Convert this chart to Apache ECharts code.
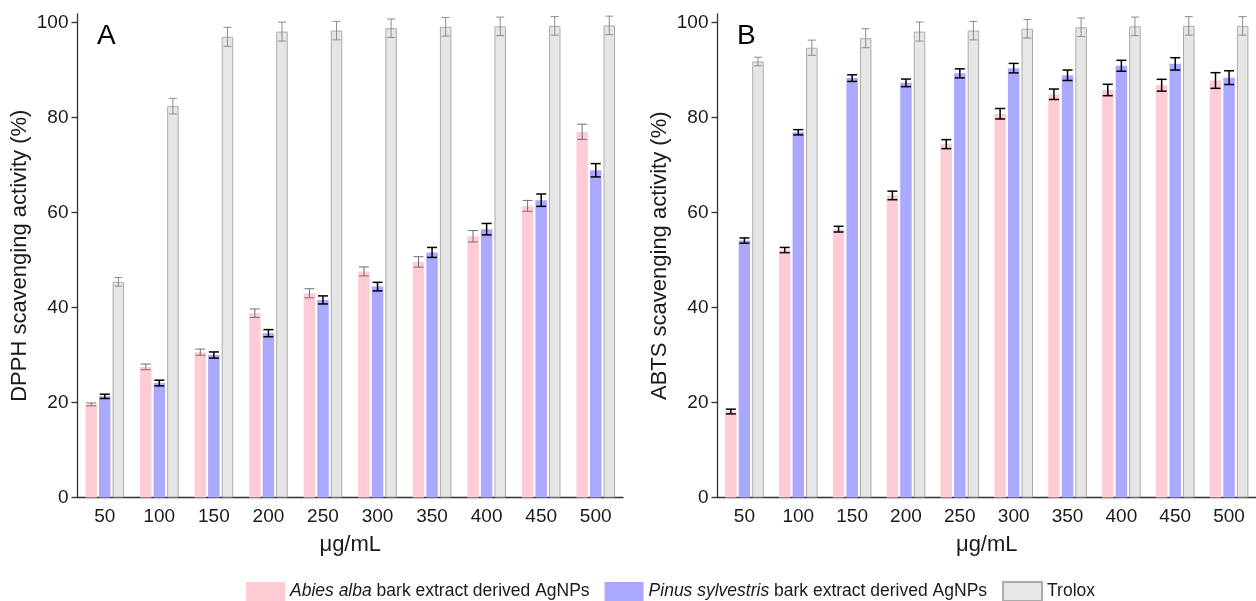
<!DOCTYPE html>
<html>
<head>
<meta charset="utf-8">
<script src="https://cdn.jsdelivr.net/npm/echarts@6/dist/echarts.min.js"></script>
<style>html,body{margin:0;padding:0;background:#fff;}#c{width:1256px;height:601px;}</style>
</head>
<body>
<div id="c"></div>
<script>
var categories = ['50','100','150','200','250','300','350','400','450','500'];
var yTicks = [0, 20, 40, 60, 80, 100];

var dpphAbies     = [19.6, 27.5, 30.6, 38.8, 43.0, 47.6, 49.6, 55.0, 61.4, 77.0];
var dpphAbiesErr  = [0.3, 0.6, 0.65, 0.9, 0.95, 0.95, 1.1, 1.2, 1.15, 1.6];
var dpphPinus     = [21.3, 24.1, 30.0, 34.6, 41.6, 44.4, 51.6, 56.5, 62.6, 68.9];
var dpphPinusErr  = [0.45, 0.6, 0.65, 0.75, 0.85, 0.9, 1.05, 1.2, 1.3, 1.4];
var dpphTrolox    = [45.4, 82.4, 97.0, 98.1, 98.3, 98.8, 99.1, 99.2, 99.3, 99.4];
var dpphTroloxErr = [0.9, 1.65, 2.0, 2.0, 1.95, 1.95, 1.95, 1.95, 1.95, 1.95];

var abtsAbies     = [18.1, 52.1, 56.5, 63.6, 74.4, 80.8, 84.9, 85.8, 86.8, 87.8];
var abtsAbiesErr  = [0.5, 0.55, 0.6, 0.9, 0.95, 1.1, 1.1, 1.2, 1.25, 1.65];
var abtsPinus     = [54.1, 76.9, 88.3, 87.3, 89.3, 90.4, 88.9, 90.9, 91.3, 88.4];
var abtsPinusErr  = [0.55, 0.55, 0.7, 0.8, 0.95, 1.0, 1.1, 1.15, 1.3, 1.45];
var abtsTrolox    = [91.8, 94.7, 96.7, 98.1, 98.3, 98.7, 99.0, 99.2, 99.3, 99.3];
var abtsTroloxErr = [0.9, 1.6, 2.0, 2.0, 1.95, 1.95, 1.95, 1.95, 1.95, 1.95];

var names = ['Abies alba bark extract derived AgNPs', 'Pinus sylvestris bark extract derived AgNPs', 'Trolox'];
var colors = ['#FFCCD6', '#ABA8FF', '#E6E6E6'];

var BW = 11.5, GAP = 0.18;
var STEP = BW * (1 + GAP);
var FONT = '"Liberation Sans", Arial, sans-serif';

function barSeries(idx, gi, data) {
  var s = {
    type: 'bar', name: names[idx], xAxisIndex: gi, yAxisIndex: gi,
    data: data, barWidth: BW, barGap: (GAP * 100) + '%',
    itemStyle: { color: colors[idx] }, z: 2
  };
  if (idx === 2) { s.itemStyle.borderColor = '#ABABAB'; s.itemStyle.borderWidth = 1; }
  return s;
}

function errSeries(gi, k, vals, errs, color, lw, cap) {
  var d = vals.map(function (v, i) { return [i, v, errs[i]]; });
  return {
    type: 'custom', xAxisIndex: gi, yAxisIndex: gi, z: 5, silent: true,
    data: d, encode: { x: 0, y: 1 },
    renderItem: function (params, api) {
      var i = api.value(0), v = api.value(1), e = api.value(2);
      var c = api.coord([i, v]);
      var x = c[0] + k * STEP;
      var yt = api.coord([i, v + e])[1];
      var yb = api.coord([i, v - e])[1];
      var st = { stroke: color, lineWidth: lw };
      return {
        type: 'group', children: [
          { type: 'line', shape: { x1: x, y1: yt, x2: x, y2: yb }, style: st },
          { type: 'line', shape: { x1: x - cap / 2, y1: yt, x2: x + cap / 2, y2: yt }, style: st },
          { type: 'line', shape: { x1: x - cap / 2, y1: yb, x2: x + cap / 2, y2: yb }, style: st }
        ]
      };
    }
  };
}

function xAxis(gi) {
  return {
    type: 'category', gridIndex: gi, data: categories,
    name: 'μg/mL', nameLocation: 'middle', nameGap: 36,
    nameTextStyle: { fontSize: 22, color: '#1a1a1a', fontFamily: FONT },
    axisLine: { lineStyle: { color: '#333', width: 1.3 } },
    axisTick: { alignWithLabel: true, length: 6, lineStyle: { color: '#333', width: 1.3 } },
    axisLabel: { fontSize: 19, color: '#1a1a1a', margin: 10, fontFamily: FONT, interval: 0 },
    splitLine: { show: false }
  };
}
function yAxis(gi, name) {
  return {
    type: 'value', gridIndex: gi, min: 0, max: 101.8,
    name: name, nameLocation: 'middle', nameGap: 47,
    nameTextStyle: { fontSize: 22, color: '#1a1a1a', fontFamily: FONT },
    axisLine: { show: true, lineStyle: { color: '#333', width: 1.3 } },
    axisTick: { show: true, length: 6, customValues: yTicks, lineStyle: { color: '#333', width: 1.3 } },
    axisLabel: { fontSize: 19, color: '#1a1a1a', margin: 9, fontFamily: FONT, customValues: yTicks },
    splitLine: { show: false }
  };
}

var chart = echarts.init(document.getElementById('c'), null, { renderer: 'canvas' });
chart.setOption({
  animation: false,
  backgroundColor: '#fff',
  grid: [
    { left: 77.5, top: 14, width: 545.5, height: 483.5 },
    { left: 717.5, top: 14, width: 545.5, height: 483.5 }
  ],
  xAxis: [xAxis(0), xAxis(1)],
  yAxis: [yAxis(0, 'DPPH scavenging activity (%)'), yAxis(1, 'ABTS scavenging activity (%)')],
  legend: {
    data: names, left: 246, top: 581, padding: 0, itemWidth: 39, itemHeight: 19, itemGap: 15,
    icon: 'rect',
    textStyle: {
      fontSize: 17.5, color: '#1a1a1a', fontFamily: FONT,
      rich: { it: { fontStyle: 'italic', fontSize: 17.5, color: '#1a1a1a', fontFamily: FONT },
              n: { fontSize: 17.5, color: '#1a1a1a', fontFamily: FONT } }
    },
    formatter: function (n) {
      if (n.indexOf('Abies alba') === 0) return '{it|Abies alba}{n| bark extract derived AgNPs}';
      if (n.indexOf('Pinus sylvestris') === 0) return '{it|Pinus sylvestris}{n| bark extract derived AgNPs}';
      return n;
    }
  },
  graphic: [
    { type: 'text', left: 97, top: 22, style: { text: 'A', fontSize: 28, fill: '#000', fontFamily: FONT } },
    { type: 'text', left: 737, top: 22, style: { text: 'B', fontSize: 28, fill: '#000', fontFamily: FONT } }
  ],
  series: [
    barSeries(0, 0, dpphAbies), barSeries(1, 0, dpphPinus), barSeries(2, 0, dpphTrolox),
    barSeries(0, 1, abtsAbies), barSeries(1, 1, abtsPinus), barSeries(2, 1, abtsTrolox),
    errSeries(0, -1, dpphAbies, dpphAbiesErr, '#707070', 1, 10),
    errSeries(0, 0, dpphPinus, dpphPinusErr, '#000', 1.5, 10),
    errSeries(0, 1, dpphTrolox, dpphTroloxErr, '#8c8c8c', 1, 8),
    errSeries(1, -1, abtsAbies, abtsAbiesErr, '#000', 1.5, 10),
    errSeries(1, 0, abtsPinus, abtsPinusErr, '#000', 1.5, 10),
    errSeries(1, 1, abtsTrolox, abtsTroloxErr, '#8c8c8c', 1, 8)
  ]
});
</script>
</body>
</html>
